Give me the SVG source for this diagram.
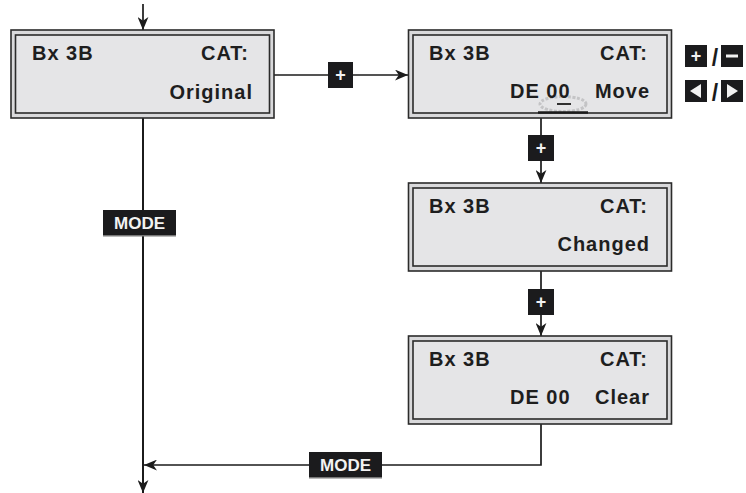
<svg xmlns="http://www.w3.org/2000/svg" width="746" height="493" viewBox="0 0 746 493">
<defs>
<style>
.outer{fill:#d9d9db;stroke:#2b2b2b;stroke-width:1.6}
.inner{fill:#e5e5e7;stroke:#2b2b2b;stroke-width:1.6}
.t{font-family:"Liberation Sans",Arial,sans-serif;font-weight:bold;font-size:20px;fill:#1e1e1e;letter-spacing:1px}
.e{text-anchor:end}
.btn{fill:#1b1b1d}
.bt{font-family:"Liberation Sans",Arial,sans-serif;font-weight:bold;fill:#f2f2f2;text-anchor:middle}
.ln{fill:none;stroke:#1b1b1b;stroke-width:1.7}
</style>
<marker id="ah" viewBox="0 0 12 10" refX="12" refY="5" markerWidth="13" markerHeight="11" markerUnits="userSpaceOnUse" orient="auto">
<path d="M0,0 L12,5 L0,10 L3.5,5 Z" fill="#1b1b1b"/>
</marker>
</defs>

<g id="connectors">
<path class="ln" d="M143,4 V30" marker-end="url(#ah)"/>
<path class="ln" d="M274,75 H408" marker-end="url(#ah)"/>
<path class="ln" d="M143,118 V493" marker-end="url(#ah)" style="stroke-width:2"/>
<path class="ln" d="M541,118 V183" marker-end="url(#ah)"/>
<path class="ln" d="M541,271 V336" marker-end="url(#ah)"/>
<path class="ln" d="M541,424 V465 H144" marker-end="url(#ah)"/>
</g>

<g id="box1">
<rect class="outer" x="11" y="30" width="263" height="88"/>
<rect class="inner" x="15.5" y="35" width="254" height="78"/>
<text class="t" x="32" y="60">Bx 3B</text>
<text class="t e" x="249" y="60">CAT:</text>
<text class="t e" x="253" y="99">Original</text>
</g>

<g id="box2">
<rect class="outer" x="408.5" y="30" width="263" height="88"/>
<rect class="inner" x="413" y="35" width="254" height="78"/>
<text class="t" x="429" y="60">Bx 3B</text>
<text class="t e" x="648" y="60">CAT:</text>
<ellipse cx="563" cy="104" rx="23" ry="7.5" fill="none" stroke="#c4c4c6" stroke-width="3" stroke-dasharray="3 1.5"/>
<text class="t" x="510" y="98">DE 00</text>
<text class="t e" x="650" y="98">Move</text>
<line x1="557" y1="104" x2="571" y2="104" stroke="#1b1b1b" stroke-width="1.8"/>
<line x1="538" y1="112.5" x2="588" y2="112.5" stroke="#1b1b1b" stroke-width="2.6"/>
</g>

<g id="box3">
<rect class="outer" x="408.5" y="183" width="263" height="88"/>
<rect class="inner" x="413" y="188" width="254" height="78"/>
<text class="t" x="429" y="213">Bx 3B</text>
<text class="t e" x="648" y="213">CAT:</text>
<text class="t e" x="650" y="251">Changed</text>
</g>

<g id="box4">
<rect class="outer" x="408.5" y="336" width="263" height="88"/>
<rect class="inner" x="413" y="341" width="254" height="78"/>
<text class="t" x="429" y="366">Bx 3B</text>
<text class="t e" x="648" y="366">CAT:</text>
<text class="t" x="510" y="404">DE 00</text>
<text class="t e" x="650" y="404">Clear</text>
</g>

<g id="plus1">
<rect class="btn" x="328" y="62" width="25" height="26"/>
<text class="bt" x="340.5" y="81" font-size="18">+</text>
</g>
<g id="plus2">
<rect class="btn" x="528" y="135" width="26" height="26"/>
<text class="bt" x="541" y="154" font-size="18">+</text>
</g>
<g id="plus3">
<rect class="btn" x="528" y="289" width="26" height="26"/>
<text class="bt" x="541" y="308" font-size="18">+</text>
</g>

<g id="mode1">
<rect class="btn" x="103" y="210" width="73" height="26"/>
<rect x="103" y="235" width="73" height="1.5" fill="#777"/>
<text class="bt" x="139.5" y="229" font-size="17">MODE</text>
</g>
<g id="mode2">
<rect class="btn" x="309" y="452" width="73" height="26"/>
<rect x="309" y="477" width="73" height="1.5" fill="#777"/>
<text class="bt" x="345.5" y="471" font-size="17">MODE</text>
</g>

<g id="keys">
<rect class="btn" x="685" y="45" width="22" height="22"/>
<text class="bt" x="696" y="62" font-size="18">+</text>
<text x="715" y="66" font-family="Liberation Sans,Arial,sans-serif" font-weight="bold" font-size="23" fill="#1b1b1b" text-anchor="middle">/</text>
<rect class="btn" x="721" y="45" width="22" height="22"/>
<rect x="726" y="54.5" width="12" height="3" fill="#f2f2f2"/>
<rect class="btn" x="685" y="80" width="22" height="22"/>
<polygon points="701,84 701,98 690,91" fill="#f2f2f2"/>
<text x="715" y="101" font-family="Liberation Sans,Arial,sans-serif" font-weight="bold" font-size="23" fill="#1b1b1b" text-anchor="middle">/</text>
<rect class="btn" x="721" y="80" width="22" height="22"/>
<polygon points="727,84 727,98 738,91" fill="#f2f2f2"/>
</g>
</svg>
